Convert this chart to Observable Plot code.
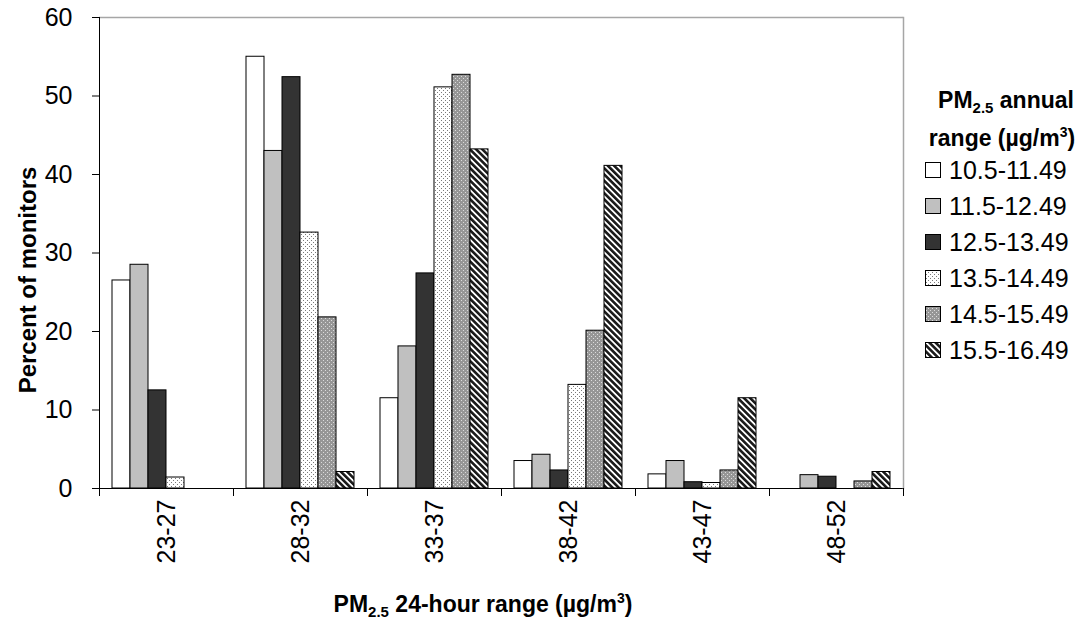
<!DOCTYPE html>
<html>
<head>
<meta charset="utf-8">
<script src="https://cdn.jsdelivr.net/npm/d3@7"></script>
<script src="https://cdn.jsdelivr.net/npm/@observablehq/plot@0.6"></script>
<style>
  html, body { margin: 0; padding: 0; background: #fff; }
  #chart svg { display: block; }
</style>
</head>
<body>
<div id="chart"></div>
<script>
// ---- data ----
const groups = ["23-27", "28-32", "33-37", "38-42", "43-47", "48-52"];
const series = ["10.5-11.49", "11.5-12.49", "12.5-13.49", "13.5-14.49", "14.5-15.49", "15.5-16.49"];
const s10_5 = [26.5, 55.0, 11.5, 3.5, 1.8, 0];
const s11_5 = [28.5, 43.0, 18.1, 4.3, 3.5, 1.7];
const s12_5 = [12.5, 52.4, 27.4, 2.3, 0.8, 1.5];
const s13_5 = [1.4, 32.6, 51.1, 13.2, 0.7, 0];
const s14_5 = [0, 21.8, 52.7, 20.1, 2.3, 0.9];
const s15_5 = [0, 2.1, 43.2, 41.1, 11.5, 2.1];
const seriesValues = [s10_5, s11_5, s12_5, s13_5, s14_5, s15_5];
const seriesFills = ["#ffffff", "#c0c0c0", "#333333", "url(#dotsLight)", "url(#dotsMed)", "url(#hatch)"];
const yTicks = [0, 10, 20, 30, 40, 50, 60];

const rows = [];
series.forEach((s, si) => groups.forEach((g, gi) => {
  const v = seriesValues[si][gi];
  if (v > 0) rows.push({group: g, series: s, value: v});
}));

const W = 1089, H = 624, mL = 98, mR = 186, mT = 17, mB = 136;
const innerH = H - mT - mB;
const tickFont = 25;

const plot = Plot.plot({
  width: W, height: H,
  marginLeft: mL, marginRight: mR, marginTop: mT, marginBottom: mB,
  style: {fontFamily: "'Liberation Sans', Arial, sans-serif", fontSize: "25px", color: "#000", background: "#fff", overflow: "visible"},
  fx: {domain: groups, padding: 0, label: null},
  x: {domain: series, paddingInner: 0, paddingOuter: 0.72, axis: null},
  y: {domain: [0, 60], label: null},
  color: {domain: series, range: seriesFills},
  marks: [
    Plot.ruleY([60], {stroke: "#a6a6a6", strokeWidth: 1.5}),
    Plot.barY(rows, {fx: "group", x: "series", y: "value", fill: "series", stroke: "#000", strokeWidth: 1}),
    Plot.ruleY([0], {stroke: "#000"}),
    Plot.frame({anchor: "left", fx: groups[0], stroke: "#000"}),
    Plot.frame({anchor: "left", insetTop: innerH, insetBottom: -7, stroke: "#000"}),
    Plot.frame({anchor: "right", fx: groups[groups.length - 1], stroke: "#a6a6a6", strokeWidth: 1.5}),
    Plot.frame({anchor: "right", fx: groups[groups.length - 1], insetTop: innerH, insetBottom: -7, stroke: "#000"}),
    Plot.axisY(yTicks, {tickSize: 7, tickPadding: 20, fontSize: tickFont, label: null}),
    Plot.axisFx({anchor: "bottom", tickSize: 0, tickRotate: -90, tickPadding: 11, fontSize: tickFont, label: null})
  ]
});

const svg = d3.select(plot);
const defs = svg.insert("defs", ":first-child");

// light dotted
const p1 = defs.append("pattern").attr("id", "dotsLight").attr("patternUnits", "userSpaceOnUse").attr("width", 4).attr("height", 4);
p1.append("rect").attr("width", 4).attr("height", 4).attr("fill", "#ffffff");
p1.append("rect").attr("x", 0).attr("y", 0).attr("width", 1).attr("height", 1).attr("fill", "#7a7a7a");
p1.append("rect").attr("x", 2).attr("y", 2).attr("width", 1).attr("height", 1).attr("fill", "#7a7a7a");
// medium dotted
const p2 = defs.append("pattern").attr("id", "dotsMed").attr("patternUnits", "userSpaceOnUse").attr("width", 4).attr("height", 4);
p2.append("rect").attr("width", 4).attr("height", 4).attr("fill", "#969696");
p2.append("rect").attr("x", 0).attr("y", 0).attr("width", 1).attr("height", 1).attr("fill", "#dcdcdc");
p2.append("rect").attr("x", 2).attr("y", 2).attr("width", 1).attr("height", 1).attr("fill", "#dcdcdc");
// diagonal hatch
const p3 = defs.append("pattern").attr("id", "hatch").attr("patternUnits", "userSpaceOnUse").attr("width", 4.4).attr("height", 4.4).attr("patternTransform", "rotate(-45)");
p3.append("rect").attr("width", 4.4).attr("height", 4.4).attr("fill", "#ffffff");
p3.append("rect").attr("width", 2.6).attr("height", 4.4).attr("fill", "#1a1a1a");

const font = "'Liberation Sans', Arial, sans-serif";

// y-axis title
svg.append("text")
  .attr("transform", `translate(36,280) rotate(-90)`)
  .attr("text-anchor", "middle").attr("font-family", font).attr("font-weight", "bold").attr("font-size", 24)
  .attr("fill", "#000").text("Percent of monitors");

// x-axis title
const xt = svg.append("text").attr("x", 483).attr("y", 612).attr("text-anchor", "middle")
  .attr("font-family", font).attr("font-weight", "bold").attr("font-size", 23).attr("fill", "#000");
xt.append("tspan").text("PM");
xt.append("tspan").attr("font-size", 15).attr("dy", 5).text("2.5");
xt.append("tspan").attr("dy", -5).text(" 24-hour range (µg/m");
xt.append("tspan").attr("font-size", 14).attr("dy", -9).text("3");
xt.append("tspan").attr("dy", 9).text(")");

// legend title
const lt1 = svg.append("text").attr("x", 1006).attr("y", 108).attr("text-anchor", "middle")
  .attr("font-family", font).attr("font-weight", "bold").attr("font-size", 23).attr("fill", "#000");
lt1.append("tspan").text("PM");
lt1.append("tspan").attr("font-size", 15).attr("dy", 5).text("2.5");
lt1.append("tspan").attr("dy", -5).text(" annual");
const lt2 = svg.append("text").attr("x", 1002).attr("y", 146).attr("text-anchor", "middle")
  .attr("font-family", font).attr("font-weight", "bold").attr("font-size", 23).attr("fill", "#000");
lt2.append("tspan").text("range (µg/m");
lt2.append("tspan").attr("font-size", 14).attr("dy", -9).text("3");
lt2.append("tspan").attr("dy", 9).text(")");

// legend items
const color = plot.scale("color");
const lg = svg.append("g").attr("font-family", font).attr("font-size", tickFont).attr("text-anchor", "start");
series.forEach((s, i) => {
  const cy = 170 + i * 36;
  lg.append("rect").attr("x", 925.5).attr("y", cy - 7.5).attr("width", 15).attr("height", 15)
    .attr("fill", color.apply(s)).attr("stroke", "#000").attr("stroke-width", 1);
  lg.append("text").attr("x", 949).attr("y", cy).attr("dy", "0.36em").attr("text-anchor", "start").attr("fill", "#000").text(s);
});

document.getElementById("chart").appendChild(plot);
</script>
</body>
</html>
